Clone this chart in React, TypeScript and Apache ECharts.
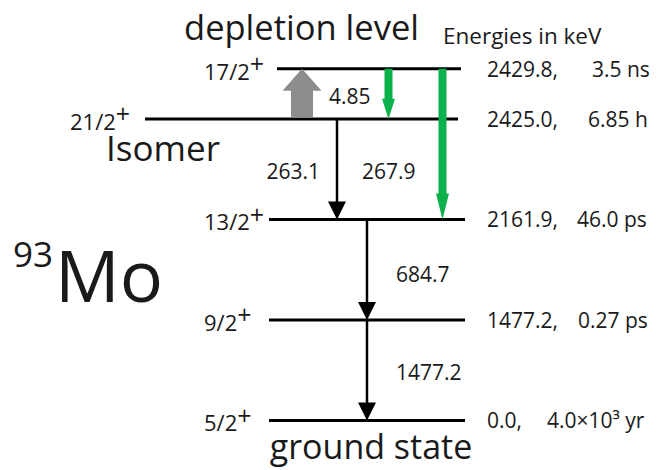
import { useEffect, useRef } from "react";
import * as echarts from "echarts";

// Level scheme of 93Mo, energies in keV
const levelSpins = ["5/2", "9/2", "13/2", "21/2", "17/2"];
const levelParity = ["+", "+", "+", "+", "+"];
const levelEnergies = [0.0, 1477.2, 2161.9, 2425.0, 2429.8];
const levelHalfLives = ["4.0×10³ yr", "0.27 ps", "46.0 ps", "6.85 h", "3.5 ns"];

// Transitions (indices into the level arrays) and their energies in keV
const transitionFrom = [3, 4, 4, 3, 2, 1];
const transitionTo = [4, 3, 2, 2, 1, 0];
const transitionEnergies = [4.85, 4.85, 267.9, 263.1, 684.7, 1477.2];
const transitionKinds = ["excitation", "depletion", "depletion", "gamma", "gamma", "gamma"];

// Schematic layout: vertical tier of each level, horizontal extents, label anchors
const LEVEL_TIER = [0, 1, 2, 3, 3.5];
const LEVEL_SPAN = [
  [269, 465],
  [269, 465],
  [269, 465],
  [145, 458],
  [277, 461],
];
const SPIN_LABEL_X = [204, 204, 204, 70, 204];
const ENERGY_LABEL_X = 487;
const HALF_LIFE_X = [547, 578, 577, 588, 592];
const TRANSITION_X = [302, 388.5, 442.5, 337, 367, 367];
const TRANSITION_LABEL: ({ x: number; tier: number; align: string } | null)[] = [
  { x: 329, tier: 3.228, align: "left" },
  null,
  { x: 362, tier: 2.482, align: "left" },
  { x: 320, tier: 2.482, align: "right" },
  { x: 396, tier: 1.452, align: "left" },
  { x: 396, tier: 0.477, align: "left" },
];

const FONT = "'Open Sans', 'Noto Sans', sans-serif";
const INK = "#1a1a1a";
const GREEN = "#0db14b";
const GREY = "#8d8d8f";
const SPIN_SIZE = 22;
const PARITY_SIZE = 25;

// width of a string in the label font, used to place the raised parity sign
const measureCtx = document.createElement("canvas").getContext("2d");
function textWidth(text: string, size: number) {
  if (!measureCtx) return text.length * size * 0.55;
  measureCtx.font = `${size}px ${FONT}`;
  return measureCtx.measureText(text).width;
}

function buildOption() {
  const levelSeries = {
    type: "custom",
    coordinateSystem: "cartesian2d",
    encode: { x: [0, 1], y: 2 },
    z: 2,
    data: levelEnergies.map((e, i) => [LEVEL_SPAN[i][0], LEVEL_SPAN[i][1], LEVEL_TIER[i], e]),
    renderItem: (params: any, api: any) => {
      const i = params.dataIndex;
      const [x0, y] = api.coord([api.value(0), api.value(2)]);
      const [x1] = api.coord([api.value(1), api.value(2)]);
      const [sx] = api.coord([SPIN_LABEL_X[i], 0]);
      const [ex] = api.coord([ENERGY_LABEL_X, 0]);
      const [hx] = api.coord([HALF_LIFE_X[i], 0]);
      const spinW = textWidth(levelSpins[i], SPIN_SIZE);
      const plain = (text: string, tx: number, ty: number, size: number, lineHeight?: number) => ({
        type: "text",
        x: tx,
        y: ty,
        style: {
          text,
          fontSize: size,
          fontFamily: FONT,
          fill: INK,
          align: "left",
          verticalAlign: "middle",
          lineHeight: lineHeight ?? size,
        },
      });
      return {
        type: "group",
        children: [
          {
            type: "line",
            shape: { x1: x0, y1: y, x2: x1, y2: y },
            style: { stroke: "#000", lineWidth: 3 },
          },
          plain(levelSpins[i], sx, y + 2, SPIN_SIZE, 16),
          plain(levelParity[i], sx + spinW, y - 5.5, PARITY_SIZE, 16),
          plain(`${Number(api.value(3)).toFixed(1)},`, ex, y, 21),
          plain(levelHalfLives[i], hx, y, 21),
        ],
      };
    },
  };

  const transitionSeries = {
    type: "custom",
    coordinateSystem: "cartesian2d",
    encode: { x: 0, y: [1, 2] },
    z: 3,
    data: transitionEnergies.map((e, k) => [
      TRANSITION_X[k],
      LEVEL_TIER[transitionFrom[k]],
      LEVEL_TIER[transitionTo[k]],
      e,
    ]),
    renderItem: (params: any, api: any) => {
      const k = params.dataIndex;
      const [x, yFrom] = api.coord([api.value(0), api.value(1)]);
      const [, yTo] = api.coord([api.value(0), api.value(2)]);
      const kind = transitionKinds[k];
      const children: any[] = [];
      if (kind === "gamma") {
        const head = 18;
        const half = 9;
        children.push({
          type: "line",
          shape: { x1: x, y1: yFrom, x2: x, y2: yTo - head + 2 },
          style: { stroke: "#000", lineWidth: 2.5 },
        });
        children.push({
          type: "polygon",
          shape: { points: [[x - half, yTo - head], [x + half, yTo - head], [x, yTo]] },
          style: { fill: "#000" },
        });
      } else if (kind === "depletion") {
        const head = Math.min(26, (yTo - yFrom) * 0.4);
        const sw = 4;
        const hw = 6.5;
        children.push({
          type: "polygon",
          shape: {
            points: [
              [x - sw, yFrom],
              [x + sw, yFrom],
              [x + sw, yTo - head],
              [x + hw, yTo - head],
              [x, yTo],
              [x - hw, yTo - head],
              [x - sw, yTo - head],
            ],
          },
          style: { fill: GREEN },
        });
      } else {
        // upward block arrow for the excitation into the depletion level
        const head = 22;
        const sw = 11;
        const hw = 19.5;
        const base = yFrom - 1.5;
        children.push({
          type: "polygon",
          shape: {
            points: [
              [x - sw, base],
              [x - sw, yTo + head],
              [x - hw, yTo + head],
              [x, yTo],
              [x + hw, yTo + head],
              [x + sw, yTo + head],
              [x + sw, base],
            ],
          },
          style: { fill: GREY },
        });
      }
      const lab = TRANSITION_LABEL[k];
      if (lab) {
        const [lx, ly] = api.coord([lab.x, lab.tier]);
        children.push({
          type: "text",
          x: lx,
          y: ly,
          style: {
            text: String(api.value(3)),
            fontSize: 21,
            fontFamily: FONT,
            fill: INK,
            align: lab.align,
            verticalAlign: "middle",
          },
        });
      }
      return { type: "group", children };
    },
  };

  const note = (text: string, x: number, y: number, size: number, align = "center") => ({
    type: "text",
    x,
    y,
    style: {
      text,
      fontSize: size,
      fontFamily: FONT,
      fill: INK,
      align,
      verticalAlign: "middle",
      lineHeight: size,
    },
  });

  return {
    animation: false,
    backgroundColor: "#ffffff",
    grid: { left: 0, right: 0, top: 0, bottom: 0 },
    xAxis: { type: "value", min: 0, max: 658, show: false },
    yAxis: { type: "value", min: -0.4935, max: 4.183, show: false },
    series: [levelSeries, transitionSeries],
    graphic: [
      note("depletion level", 301.5, 26, 34.5),
      note("Energies in keV", 443, 35, 22.5, "left"),
      note("Isomer", 163, 147.5, 35),
      note("ground state", 371, 446, 34),
      note("93", 13, 253.5, 35, "left"),
      note("Mo", 55, 274, 72, "left"),
    ],
  };
}

export default function App() {
  const ref = useRef<HTMLDivElement>(null);
  useEffect(() => {
    const chart = echarts.init(ref.current!, null, { renderer: "svg" });
    chart.setOption(buildOption() as any);
    return () => chart.dispose();
  }, []);
  return (
    <div
      ref={ref}
      style={{ position: "absolute", left: 0, top: 0, width: 658, height: 470 }}
    />
  );
}
